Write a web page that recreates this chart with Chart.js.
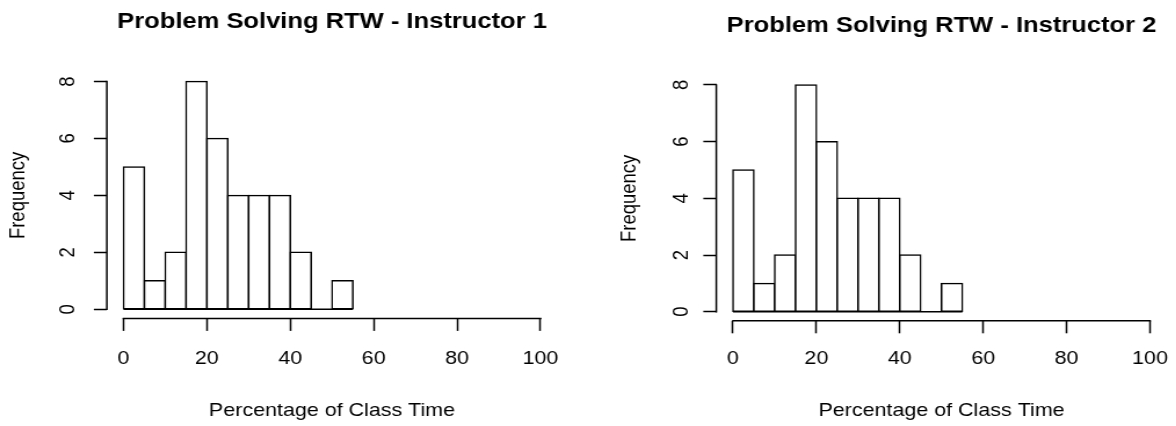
<!DOCTYPE html>
<html><head><meta charset="utf-8">
<script src="https://cdn.jsdelivr.net/npm/chart.js@4/dist/chart.umd.min.js"></script>
<style>
html,body{margin:0;padding:0;background:#fff;width:1176px;height:426px;overflow:hidden;}
.panel{position:absolute;top:0;width:507px;height:426px;transform:scaleX(1.16);transform-origin:0 0;}
#p1{left:0px} #p2{left:588px}
canvas{display:block}
</style></head><body>
<div class="panel" id="p1"><canvas id="c1" width="507" height="426"></canvas></div>
<div class="panel" id="p2"><canvas id="c2" width="507" height="426"></canvas></div>
<script>
// ---- data ----
const binEdges = [0, 5, 10, 15, 20, 25, 30, 35, 40, 45, 50, 55];
const countsInstructor1 = [5, 1, 2, 8, 6, 4, 4, 4, 2, 0, 1];
const countsInstructor2 = [5, 1, 2, 8, 6, 4, 4, 4, 2, 0, 1];
const chartTitles = ["Problem Solving RTW - Instructor 1", "Problem Solving RTW - Instructor 2"];
const xTickValues = [0, 20, 40, 60, 80, 100];
const yTickValues = [0, 2, 4, 6, 8];
const xAxisTitle = "Percentage of Class Time";
const yAxisTitle = "Frequency";

// ---- style ----
const FAMILY = '"Liberation Sans", Arial, Helvetica, sans-serif';
const INK = '#000';
const LW = 1.5;
const axisFont = {family: FAMILY, size: 18.5};
const titleFont = {family: FAMILY, size: 22, weight: 'bold'};

const rAxesPlugin = {
  id: 'rAxes',
  afterDraw(chart) {
    const {ctx, chartArea, scales: {x, y}} = chart;
    ctx.save();
    ctx.strokeStyle = INK;
    ctx.lineWidth = LW;
    ctx.beginPath();
    ctx.moveTo(x.getPixelForValue(xTickValues[0]) - LW / 2, chartArea.bottom);
    ctx.lineTo(x.getPixelForValue(xTickValues[xTickValues.length - 1]) + LW / 2, chartArea.bottom);
    ctx.moveTo(chartArea.left, y.getPixelForValue(yTickValues[0]) + LW / 2);
    ctx.lineTo(chartArea.left, y.getPixelForValue(yTickValues[yTickValues.length - 1]) - LW / 2);
    ctx.stroke();
    ctx.restore();
  }
};

function ext(lo, hi) { const d = (hi - lo) * 0.04; return [lo - d, hi + d]; }

function makeChart(id, counts, title, L) {
  const barData = counts.map((c, i) => ({x: (binEdges[i] + binEdges[i + 1]) / 2, y: c}));
  const baseData = [{x: binEdges[0], y: 0}, {x: binEdges[binEdges.length - 1], y: 0}];
  const [xmin, xmax] = ext(xTickValues[0], xTickValues[xTickValues.length - 1]);
  const [ymin, ymax] = ext(yTickValues[0], yTickValues[yTickValues.length - 1]);
  return new Chart(document.getElementById(id), {
    data: {
      datasets: [
        {type: 'bar', data: barData, backgroundColor: '#fff', borderColor: INK, borderWidth: LW,
         borderSkipped: false, inflateAmount: LW / 2, barPercentage: 1, categoryPercentage: 1,
         grouped: false, order: 1},
        {type: 'line', data: baseData, borderColor: INK, borderWidth: LW, pointRadius: 0,
         fill: false, order: 0}
      ]
    },
    options: {
      responsive: false, animation: false, devicePixelRatio: 1,
      layout: {padding: {left: 0, right: L.padRight, top: 0, bottom: 0}},
      plugins: {
        legend: {display: false}, tooltip: {enabled: false},
        title: {display: true, text: title, fullSize: false, color: '#000', font: titleFont,
                padding: {top: L.tTop, bottom: L.tBottom}}
      },
      scales: {
        x: {
          type: 'linear', min: xmin, max: xmax, offset: false,
          afterBuildTicks: s => { s.ticks = xTickValues.map(v => ({value: v})); },
          afterFit: s => { s.height = L.xHeight; s.paddingLeft = 0; s.paddingRight = 0; },
          border: {display: false},
          grid: {offset: false, drawOnChartArea: false, drawTicks: true, tickLength: 12.5, tickWidth: LW, tickColor: INK},
          ticks: {font: axisFont, color: '#000', padding: L.xTickPad, minRotation: 0, maxRotation: 0,
                  autoSkip: false, callback: v => String(v)},
          title: {display: true, text: xAxisTitle, color: '#000', font: axisFont,
                  padding: {top: 0, bottom: L.xTitlePad}}
        },
        y: {
          type: 'linear', min: ymin, max: ymax, offset: false,
          afterBuildTicks: s => { s.ticks = yTickValues.map(v => ({value: v})); },
          afterFit: s => { s.width = L.yWidth; s.paddingTop = 0; s.paddingBottom = 0; },
          border: {display: false},
          grid: {offset: false, drawOnChartArea: false, drawTicks: true, tickLength: 11.2, tickWidth: LW, tickColor: INK},
          ticks: {font: axisFont, color: '#000', padding: L.yTickPad, minRotation: 90, maxRotation: 90,
                  crossAlign: 'center', autoSkip: false, callback: v => String(v)},
          title: {display: true, text: yAxisTitle, color: '#000', font: axisFont,
                  padding: {top: L.yTitlePad, bottom: 0}}
        }
      }
    },
    plugins: [rAxesPlugin]
  });
}

makeChart('c1', countsInstructor1, chartTitles[0],
  {yWidth: 92.1, xHeight: 107.6, padRight: 26.7, tTop: 8.5, tBottom: 37.5,
   yTickPad: 17.1, xTickPad: 16.7, yTitlePad: 4.5, xTitlePad: 3.9});
makeChart('c2', countsInstructor2, chartTitles[1],
  {yWidth: 110.6, xHeight: 105.2, padRight: 8.1, tTop: 12.6, tBottom: 36.9,
   yTickPad: 13.4, xTickPad: 14.4, yTitlePad: 24.4, xTitlePad: 3.9});
</script>
</body></html>
